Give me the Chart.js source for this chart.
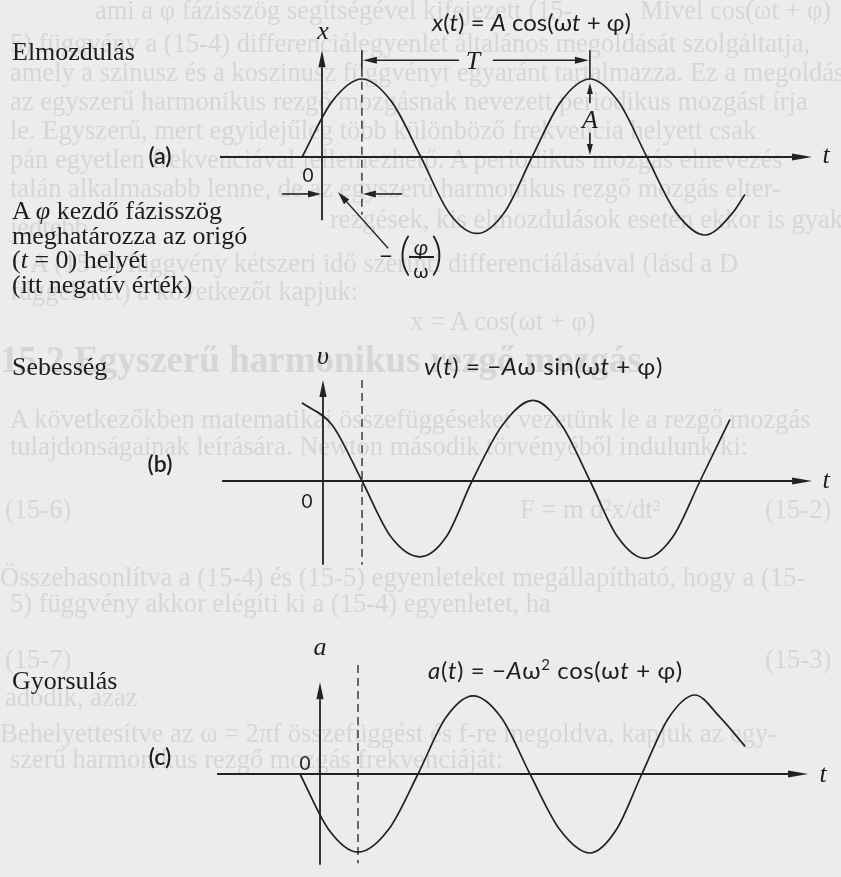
<!DOCTYPE html>
<html lang="hu">
<head>
<meta charset="utf-8">
<title>Harmonikus rezgés</title>
<script src="https://cdn.jsdelivr.net/npm/chart.js@4.4.1/dist/chart.umd.min.js"></script>
<style>
  body { margin: 0; background: #ececec; }
  #page { position: relative; width: 841px; height: 877px; overflow: hidden; background: #ececec; color: #1e1e1e; font-family: "Liberation Serif", "Times New Roman", serif; }
  .ghost { position: absolute; z-index: 0; color: #d6d6d6; font-size: 26.5px; line-height: 26px; white-space: nowrap; filter: blur(0.5px); }
  .ghost.head { font-size: 37px; line-height: 37px; font-weight: bold; }
  canvas { position: absolute; left: 0; z-index: 1; }
  .t { position: absolute; z-index: 2; white-space: nowrap; }
  .side { font-size: 26px; line-height: 24.5px; }
  .c { transform: translate(-50%, -50%); }
  .sans { font-family: Lato, "Open Sans", sans-serif; }
  .ax { font-style: italic; font-size: 26px; line-height: 26px; }
  .tag { font-family: Lato, sans-serif; font-size: 23px; line-height: 23px; font-weight: 600; }
  .zero { font-family: Lato, sans-serif; font-size: 19px; line-height: 19px; }
  .eq { font-family: Lato, sans-serif; font-size: 24px; line-height: 24px; transform: translateY(-50%); }
  .eq sup { font-size: 15px; vertical-align: 9px; line-height: 0; }
</style>
</head>
<body>
<div id="page">
  <!-- faint print from the facing page -->
  <div class="ghost" style="left:95px;top:-3px">ami a φ fázisszög segítségével kifejezett (15-</div>
  <div class="ghost" style="left:640px;top:-3px">Mivel cos(ωt + φ)</div>
  <div class="ghost" style="left:10px;top:30px">5) függvény a (15-4) differenciálegyenlet általános megoldását szolgáltatja,</div>
  <div class="ghost" style="left:10px;top:59px">amely a szinusz és a koszinusz függvényt egyaránt tartalmazza. Ez a megoldás</div>
  <div class="ghost" style="left:10px;top:88px">az egyszerű harmonikus rezgő mozgásnak nevezett periodikus mozgást írja</div>
  <div class="ghost" style="left:10px;top:117px">le. Egyszerű, mert egyidejűleg több különböző frekvencia helyett csak</div>
  <div class="ghost" style="left:10px;top:146px">pán egyetlen frekvenciával jellemezhető. A periodikus mozgás elnevezés</div>
  <div class="ghost" style="left:10px;top:175px">talán alkalmasabb lenne, de az egyszerű harmonikus rezgő mozgás elter-</div>
  <div class="ghost" style="left:330px;top:206px">rezgések, kis elmozdulások esetén ekkor is gyakran jól köz-</div>
  <div class="ghost" style="left:10px;top:214px">jedtebb.</div>
  <div class="ghost" style="left:30px;top:250px">A (15-5) függvény kétszeri idő szerinti differenciálásával (lásd a D</div>
  <div class="ghost" style="left:10px;top:278px">függeléket) a következőt kapjuk:</div>
  <div class="ghost" style="left:410px;top:308px">x = A cos(ωt + φ)</div>
  <div class="ghost head" style="left:0px;top:341px">15.2 Egyszerű harmonikus rezgő mozgás</div>
  <div class="ghost" style="left:10px;top:406px">A következőkben matematikai összefüggéseket vezetünk le a rezgő mozgás</div>
  <div class="ghost" style="left:10px;top:433px">tulajdonságainak leírására. Newton második törvényéből indulunk ki:</div>
  <div class="ghost" style="left:5px;top:496px">(15-6)</div>
  <div class="ghost" style="left:520px;top:496px">F = m d²x/dt²</div>
  <div class="ghost" style="left:765px;top:496px">(15-2)</div>
  <div class="ghost" style="left:0px;top:564px">Összehasonlítva a (15-4) és (15-5) egyenleteket megállapítható, hogy a (15-</div>
  <div class="ghost" style="left:10px;top:590px">5) függvény akkor elégíti ki a (15-4) egyenletet, ha</div>
  <div class="ghost" style="left:5px;top:646px">(15-7)</div>
  <div class="ghost" style="left:765px;top:646px">(15-3)</div>
  <div class="ghost" style="left:5px;top:684px">adódik, azaz</div>
  <div class="ghost" style="left:0px;top:720px">Behelyettesítve az ω = 2πf összefüggést és f-re megoldva, kapjuk az egy-</div>
  <div class="ghost" style="left:10px;top:746px">szerű harmonikus rezgő mozgás frekvenciáját:</div>

  <canvas id="chartA" width="841" height="290" style="top:0px"></canvas>
  <canvas id="chartB" width="841" height="290" style="top:290px"></canvas>
  <canvas id="chartC" width="841" height="297" style="top:580px"></canvas>

  <!-- left column captions -->
  <div class="t side" style="left:12px;top:40px">Elmozdulás</div>
  <div class="t side" style="left:12px;top:199px">A <i>φ</i> kezdő fázisszög<br>meghatározza az origó<br>(<i>t</i> = 0) helyét<br>(itt negatív érték)</div>
  <div class="t side" style="left:12px;top:355px">Sebesség</div>
  <div class="t side" style="left:12px;top:669px">Gyorsulás</div>

  <div class="t tag c" style="left:160px;top:155px">(a)</div>
  <div class="t tag c" style="left:160px;top:463px">(b)</div>
  <div class="t tag c" style="left:160px;top:756px">(c)</div>

  <!-- axis letters -->
  <div class="t ax c" style="left:323px;top:31px">x</div>
  <div class="t ax c" style="left:826px;top:155px">t</div>
  <div class="t ax c" style="left:323px;top:356px">υ</div>
  <div class="t ax c" style="left:826px;top:480px">t</div>
  <div class="t ax c" style="left:320px;top:647px">a</div>
  <div class="t ax c" style="left:823px;top:774px">t</div>
  <div class="t zero c" style="left:308px;top:174px">0</div>
  <div class="t zero c" style="left:307px;top:500px">0</div>
  <div class="t zero c" style="left:305px;top:762px">0</div>

  <!-- annotations of panel (a) -->
  <div class="t ax c" style="left:473px;top:61px">T</div>
  <div class="t ax c" style="left:590px;top:120px">A</div>
  <div class="t sans c" style="left:386px;top:254px;font-size:24px">−</div>
  <div class="t sans c" style="left:405px;top:252px;font-size:46px;font-weight:300">(</div>
  <div class="t sans c" style="left:421px;top:246px;font-size:21px;font-style:italic">φ</div>
  <div class="t" style="left:409px;top:256px;width:25px;height:1.6px;background:#1e1e1e"></div>
  <div class="t sans c" style="left:421px;top:270px;font-size:20px">ω</div>
  <div class="t sans c" style="left:437px;top:252px;font-size:46px;font-weight:300">)</div>

  <!-- formulas -->
  <div class="t eq" style="left:432px;top:22px"><i>x</i>(<i>t</i>) = <i>A</i> cos(ω<i>t</i> + φ)</div>
  <div class="t eq" style="left:424px;top:366px;letter-spacing:0.6px"><i>v</i>(<i>t</i>) = −<i>A</i>ω sin(ω<i>t</i> + φ)</div>
  <div class="t eq" style="left:428px;top:670px;letter-spacing:0.6px"><i>a</i>(<i>t</i>) = −<i>A</i>ω<sup>2</sup> cos(ω<i>t</i> + φ)</div>
</div>

<script>
// time in eighths of a period, amplitude in units of the peak value
const timeA = [-0.70, 0.35, 1.40, 2.44, 3.47, 4.45, 5.44, 6.40, 7.37, 8.38, 9.40, 10.40, 11.40, 12.42, 13.44, 14.40, 14.84];
const dispA = [0, 0.71, 1.0, 0.71, 0, -0.71, -0.98, -0.71, 0, 0.71, 1.0, 0.71, 0, -0.71, -1.0, -0.72, -0.48];

const timeB = [-0.74, 0.32, 1.37, 2.39, 3.40, 4.32, 5.23, 6.30, 7.37, 8.37, 9.37, 10.34, 11.30, 12.27, 13.23, 14.28];
const veloB = [0.99, 0.71, 0, -0.71, -0.96, -0.71, 0, 0.71, 1.02, 0.71, 0, -0.71, -0.98, -0.71, 0, 0.78];

const timeC = [-0.69, 0.31, 1.31, 2.35, 3.38, 4.33, 5.28, 6.26, 7.24, 8.28, 9.31, 10.21, 11.10, 12.02, 12.93, 13.79, 14.66];
const accC = [0, -0.71, -0.99, -0.71, 0, 0.71, 0.99, 0.71, 0, -0.71, -1.0, -0.71, 0, 0.71, 1.0, 0.72, 0.35];

const INK = '#222';

function seg(ctx, x1, y1, x2, y2) {
  ctx.beginPath();
  ctx.moveTo(x1, y1);
  ctx.lineTo(x2, y2);
  ctx.stroke();
}

function arrow(ctx, x1, y1, x2, y2, len, half) {
  const a = Math.atan2(y2 - y1, x2 - x1);
  const bx = x2 - len * Math.cos(a), by = y2 - len * Math.sin(a);
  seg(ctx, x1, y1, bx, by);
  ctx.beginPath();
  ctx.moveTo(x2, y2);
  ctx.lineTo(bx + half * Math.sin(a), by - half * Math.cos(a));
  ctx.lineTo(bx - half * Math.sin(a), by + half * Math.cos(a));
  ctx.closePath();
  ctx.fill();
}

// axes with arrowheads plus the dashed reference line
const sketchAxes = {
  id: 'sketchAxes',
  beforeDatasetsDraw(chart, args, opts) {
    const { ctx, scales: { x, y } } = chart;
    const px = v => x.getPixelForValue(v), py = v => y.getPixelForValue(v);
    ctx.save();
    ctx.strokeStyle = INK;
    ctx.fillStyle = INK;
    ctx.lineWidth = 1.8;
    arrow(ctx, px(opts.t[0]), py(0), px(opts.t[1]), py(0), 20, 3.6);
    arrow(ctx, px(0), py(opts.v[0]), px(0), py(opts.v[1]), 17, 3.6);
    ctx.lineWidth = 1.3;
    ctx.setLineDash([8, 5]);
    seg(ctx, px(opts.mark), py(opts.markSpan[0]), px(opts.mark), py(opts.markSpan[1]));
    ctx.restore();
  }
};

// period, amplitude and phase markers of the displacement curve
const periodMarks = {
  id: 'periodMarks',
  afterDatasetsDraw(chart) {
    const { ctx, scales: { x, y } } = chart;
    const px = v => x.getPixelForValue(v), py = v => y.getPixelForValue(v);
    const t1 = timeA[2], t2 = timeA[10];
    ctx.save();
    ctx.strokeStyle = INK;
    ctx.fillStyle = INK;
    ctx.lineWidth = 1.6;

    // T bracket
    const yT = py(1.24), mid = (px(t1) + px(t2)) / 2;
    seg(ctx, px(t1), py(1.37), px(t1), py(1.13));
    seg(ctx, px(t2), py(1.37), px(t2), py(dispA[10]));
    arrow(ctx, mid - 17, yT, px(t1) + 1, yT, 14, 3.5);
    arrow(ctx, mid + 17, yT, px(t2) - 1, yT, 14, 3.5);

    // amplitude A
    arrow(ctx, px(t2), py(0.69), px(t2), py(dispA[10]) + 4, 11, 3);
    arrow(ctx, px(t2), py(0.31), px(t2), py(0) - 2, 11, 3);

    // phase offset -(phi/omega)
    const yP = py(-0.474);
    arrow(ctx, px(-1.40), yP, px(0) - 1, yP, 13, 3.5);
    arrow(ctx, px(2.81), yP, px(t1) + 1, yP, 13, 3.5);
    ctx.lineWidth = 1.3;
    arrow(ctx, px(2.32), py(-1.17), px(0.56), py(-0.45), 13, 3.5);
    ctx.restore();
  }
};

function makePanel(id, times, values, frame, extra) {
  const canvas = document.getElementById(id);
  const W = canvas.width, H = canvas.height;
  return new Chart(canvas.getContext('2d'), {
    type: 'line',
    data: {
      datasets: [{
        data: times.map((t, i) => ({ x: t, y: values[i] })),
        borderColor: INK,
        borderWidth: 1.7,
        pointRadius: 0,
        fill: false,
        cubicInterpolationMode: 'monotone'
      }]
    },
    options: {
      responsive: false,
      animation: false,
      events: [],
      layout: { padding: 0 },
      scales: {
        x: { type: 'linear', display: false, min: -frame.ox / frame.kt, max: (W - frame.ox) / frame.kt },
        y: { type: 'linear', display: false, min: -(H - frame.oy) / frame.ka, max: frame.oy / frame.ka }
      },
      plugins: {
        legend: { display: false },
        tooltip: { enabled: false },
        sketchAxes: frame.axes
      }
    },
    plugins: [sketchAxes].concat(extra || [])
  });
}

makePanel('chartA', timeA, dispA,
  { ox: 322, oy: 157, kt: 28.5, ka: 78,
    axes: { t: [-3.58, 17.19], v: [-0.81, 1.37], mark: timeA[2], markSpan: [1.13, -0.74] } },
  [periodMarks]);

makePanel('chartB', timeB, veloB,
  { ox: 323, oy: 191, kt: 28.5, ka: 79,
    axes: { t: [-3.54, 17.16], v: [-1.06, 1.28], mark: timeB[2], markSpan: [1.28, -1.06] } });

makePanel('chartC', timeC, accC,
  { ox: 320, oy: 194, kt: 29, ka: 79,
    axes: { t: [-3.55, 16.83], v: [-1.15, 1.16], mark: timeC[2], markSpan: [1.38, -1.13] } });
</script>
</body>
</html>
